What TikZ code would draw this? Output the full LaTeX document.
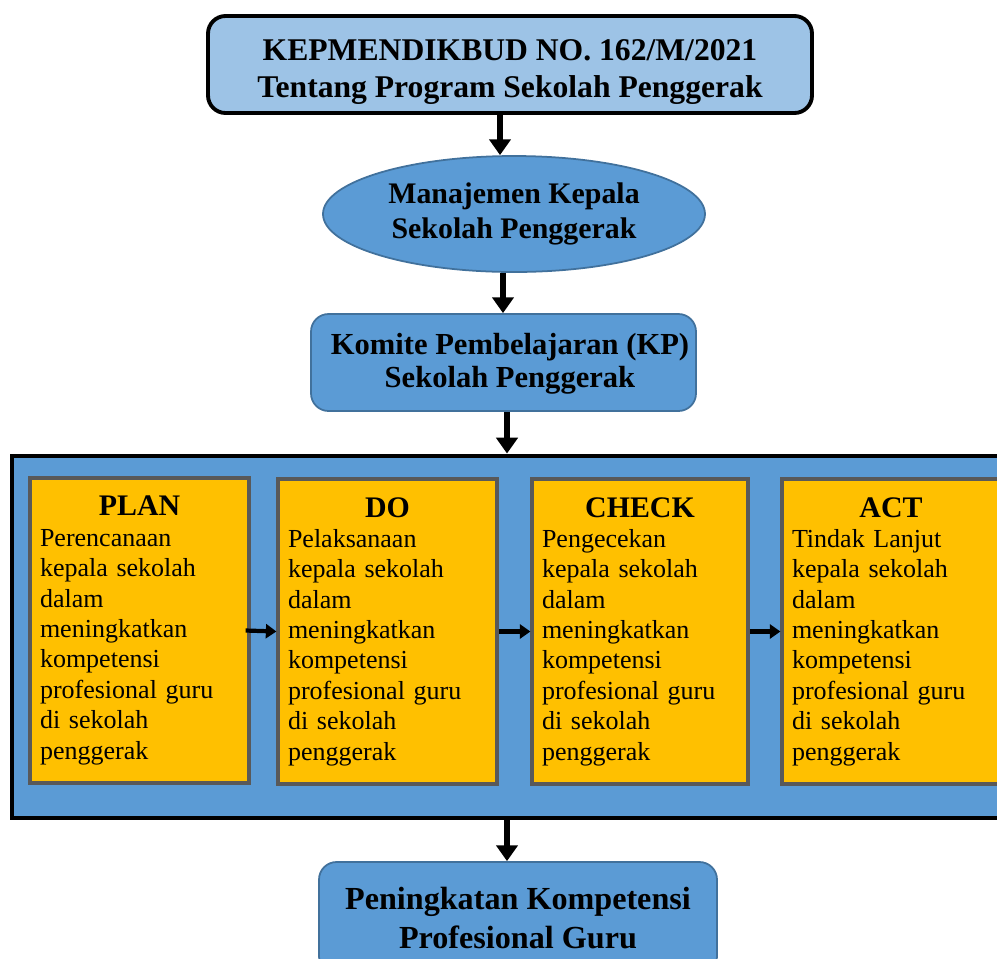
\documentclass[tikz,border=0pt]{standalone}
\usepackage{fontspec}
\setmainfont{Liberation Serif}
\usetikzlibrary{arrows.meta, positioning, shapes.geometric, calc}

\definecolor{lightblue}{HTML}{9DC3E6}
\definecolor{midblue}{HTML}{5B9BD5}
\definecolor{edgeblue}{HTML}{41719C}
\definecolor{gold}{HTML}{FFC000}
\definecolor{edgegray}{HTML}{595959}

\begin{document}
\begin{tikzpicture}[x=0.02cm, y=-0.02cm,
            titlebox/.style={draw, rounded corners=10pt, fill=lightblue, line width=2.2pt, align=center, font=\fontsize{18}{21.5}\selectfont\bfseries, inner sep=0pt},
            bluebox/.style={draw=edgeblue, rounded corners=10pt, fill=midblue, line width=1pt, align=center, inner sep=0pt},
            pdcabox/.style={draw=edgegray, fill=gold, line width=1.8pt, anchor=center, inner sep=0pt, align=left, minimum height=305*0.02cm, font=\fontsize{14.8}{17.3}\selectfont},
            arrow/.style={-{Triangle[length=9pt, width=12pt]}, line width=3pt},
            smallarrow/.style={-{Triangle[length=6pt, width=8pt]}, line width=2.4pt}
        ]
        \clip (0,0) rectangle (997,958);
        \fill[white] (0,0) rectangle (997,958);
        % --- chain of boxes ---
        \node[titlebox, minimum width=604*0.02cm, minimum height=97*0.02cm] (kep) at (510, 64.5) {};
        \node[font=\fontsize{18}{21.5}\selectfont\bfseries, align=center, inner sep=0pt] (kepText) at (510, 72)
            {KEPMENDIKBUD NO. 162/M/2021\\Tentang Program Sekolah Penggerak};
        \node[ellipse, draw=edgeblue, fill=midblue, line width=1pt, inner sep=0pt, align=center,
              minimum width=382*0.02cm, minimum height=116*0.02cm,
              font=\fontsize{17}{20}\selectfont\bfseries] (mks) at (514, 214)
            {Manajemen Kepala\\Sekolah Penggerak};
        \node[bluebox, minimum width=385*0.02cm, minimum height=97*0.02cm,
              font=\fontsize{17.4}{19}\selectfont\bfseries] (kp) at (503.5, 362.5) {};
        \node[font=\fontsize{17.4}{19}\selectfont\bfseries, align=center, inner sep=0pt] (kpText) at (510, 364)
            {Komite Pembelajaran (KP)\\Sekolah Penggerak};
        % --- PDCA frame ---
        \node[draw, fill=midblue, line width=2.8pt, minimum width=1008*0.02cm, minimum height=362*0.02cm] (pdca) at (516, 637) {};
        \node[pdcabox, text width=199*0.02cm, minimum width=219*0.02cm] (plan) at (139.5, 630.5)
            {{\centering\fontsize{17}{17.3}\selectfont\bfseries PLAN\par}Perencanaan\\kepala sekolah\\dalam\\meningkatkan\\kompetensi\\profesional guru\\di sekolah\\penggerak};
        \node[pdcabox, text width=199*0.02cm, minimum width=219*0.02cm] (do) at (387.5, 631.5)
            {{\centering\fontsize{17}{17.3}\selectfont\bfseries DO\par}Pelaksanaan\\kepala sekolah\\dalam\\meningkatkan\\kompetensi\\profesional guru\\di sekolah\\penggerak};
        \node[pdcabox, text width=196*0.02cm, minimum width=216*0.02cm] (check) at (640, 631.5)
            {{\centering\fontsize{17}{17.3}\selectfont\bfseries CHECK\par}Pengecekan\\kepala sekolah\\dalam\\meningkatkan\\kompetensi\\profesional guru\\di sekolah\\penggerak};
        \node[pdcabox, text width=198*0.02cm, minimum width=218*0.02cm] (act) at (891, 631.5)
            {{\centering\fontsize{17}{17.3}\selectfont\bfseries ACT\par}Tindak Lanjut\\kepala sekolah\\dalam\\meningkatkan\\kompetensi\\profesional guru\\di sekolah\\penggerak};
        % --- result ---
        \node[bluebox, minimum width=398*0.02cm, minimum height=112*0.02cm,
              font=\fontsize{18.3}{22.5}\selectfont\bfseries] (hasil) at (518, 918)
            {Peningkatan Kompetensi\\Profesional Guru};
        % --- arrows ---
        \draw[arrow] (kep.south -| 500,0) -- (mks.north -| 500,0);
        \draw[arrow] (mks.south -| 503,0) -- (kp.north -| 503,0);
        \draw[arrow] (kp.south -| 507,0) -- (pdca.north -| 507,0);
        \draw[arrow] (pdca.south -| 507,0) -- (hasil.north -| 507,0);
        \draw[smallarrow] ($(plan.east)+(-5,0)$) -- (do.west);
        \draw[smallarrow] (do.east) -- (check.west);
        \draw[smallarrow] (check.east) -- (act.west);
        \end{tikzpicture}
\end{document}
